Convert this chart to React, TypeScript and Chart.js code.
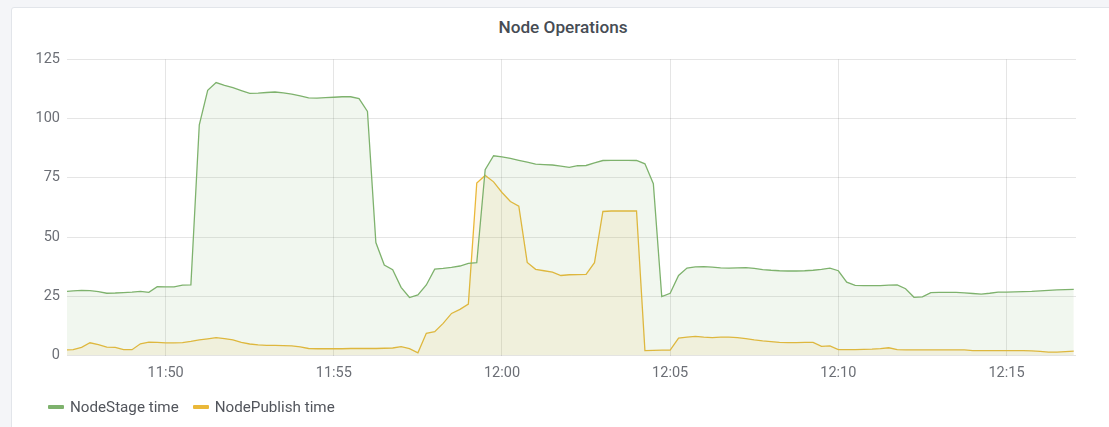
import React, { useEffect, useRef } from "react";
import { Chart, registerables } from "chart.js";

Chart.register(...registerables);

// Samples every 15 s starting at 11:47:00 (minutes since 11:00)
const startMinute = 47;
const stepMinutes = 0.25;

const nodeStageTime = [
  27.0, 27.3, 27.5, 27.4, 27.0, 26.3, 26.4, 26.6, 26.8, 27.1,
  26.7, 29.1, 29.0, 29.0, 29.7, 29.8, 97.4, 111.9, 115.2, 114.0,
  113.0, 111.8, 110.6, 110.7, 111.0, 111.2, 110.8, 110.3, 109.6, 108.7,
  108.6, 108.8, 109.0, 109.2, 109.2, 108.4, 103.0, 47.7, 38.2, 36.2,
  28.8, 24.5, 25.6, 29.8, 36.5, 36.8, 37.2, 37.8, 38.9, 39.2,
  78.4, 84.3, 83.8, 83.2, 82.4, 81.6, 80.8, 80.6, 80.4, 79.9,
  79.4, 80.1, 80.2, 81.3, 82.3, 82.4, 82.4, 82.4, 82.3, 80.9,
  72.5, 24.9, 26.3, 33.8, 36.9, 37.4, 37.5, 37.3, 37.0, 36.9,
  37.0, 37.1, 36.8, 36.3, 36.0, 35.8, 35.7, 35.7, 35.8, 36.0,
  36.4, 36.9, 35.8, 31.0, 29.6, 29.5, 29.5, 29.5, 29.7, 29.8,
  28.2, 24.6, 24.8, 26.6, 26.7, 26.7, 26.7, 26.5, 26.2, 25.9,
  26.3, 26.8, 26.8, 26.9, 27.0, 27.1, 27.3, 27.5, 27.7, 27.8,
  27.9,
];

const nodePublishTime = [
  2.4, 2.5, 3.5, 5.4, 4.6, 3.6, 3.5, 2.5, 2.5, 5.0,
  5.7, 5.6, 5.4, 5.4, 5.5, 6.0, 6.6, 7.1, 7.6, 7.2,
  6.6, 5.6, 4.9, 4.5, 4.3, 4.3, 4.2, 4.1, 3.7, 3.0,
  2.9, 2.9, 2.9, 2.9, 3.0, 3.0, 3.0, 3.0, 3.1, 3.2,
  3.8, 2.9, 1.2, 9.4, 10.1, 13.6, 17.8, 19.5, 21.7, 72.8,
  76.0, 73.3, 68.8, 65.0, 63.0, 39.3, 36.4, 35.8, 35.2, 33.8,
  34.1, 34.2, 34.3, 39.2, 60.8, 61.0, 61.0, 61.0, 61.0, 2.1,
  2.2, 2.3, 2.3, 7.4, 7.8, 8.1, 7.8, 7.6, 7.8, 7.8,
  7.6, 7.2, 6.6, 6.2, 5.9, 5.6, 5.5, 5.5, 5.6, 5.6,
  3.9, 4.1, 2.5, 2.5, 2.5, 2.6, 2.7, 2.9, 3.3, 2.5,
  2.4, 2.4, 2.4, 2.4, 2.4, 2.4, 2.4, 2.4, 2.1, 2.1,
  2.1, 2.1, 2.1, 2.1, 2.1, 2.0, 1.8, 1.5, 1.5, 1.7,
  1.9,
];

const xMin = 47 + 4 / 60;
const xMax = 77 + 4 / 60;
const xTickValues = [50, 55, 60, 65, 70, 75];
const xTickLabels = ["11:50", "11:55", "12:00", "12:05", "12:10", "12:15"];
const yTickStep = 25;
const yMax = 125;

const seriesNames = ["NodeStage time", "NodePublish time"];
const seriesColors = ["#7EB26D", "#EAB839"];
const fillColors = ["rgba(126,178,109,0.11)", "rgba(234,184,57,0.11)"];

const toPoints = (vals: number[]) =>
  vals.map((v, i) => ({ x: startMinute + i * stepMinutes, y: v }));

export default function App() {
  const canvasRef = useRef<HTMLCanvasElement | null>(null);

  useEffect(() => {
    if (!canvasRef.current) return;
    const font = "Roboto, 'Noto Sans', sans-serif";
    const chart = new Chart(canvasRef.current, {
      type: "line",
      data: {
        datasets: [nodeStageTime, nodePublishTime].map((vals, k) => ({
          label: seriesNames[k],
          data: toPoints(vals),
          borderColor: seriesColors[k],
          backgroundColor: fillColors[k],
          borderWidth: 1.3,
          pointRadius: 0,
          tension: 0,
          fill: "origin",
          order: k === 0 ? 0 : 1,
        })),
      },
      options: {
        animation: false,
        responsive: false,
        devicePixelRatio: 1,
        layout: { padding: { top: 59.3, left: 0, right: 33, bottom: 41.4 } },
        plugins: {
          legend: { display: false },
          title: { display: false },
          tooltip: { enabled: false },
        },
        scales: {
          x: {
            type: "linear",
            min: xMin,
            max: xMax,
            afterBuildTicks: (scale: any) => {
              scale.ticks = xTickValues.map((v) => ({ value: v }));
            },
            afterFit: (scale: any) => {
              scale.height = 30;
            },
            grid: { color: "rgba(0,0,0,0.1)", drawTicks: false, lineWidth: 1 },
            border: { display: false },
            ticks: {
              autoSkip: false,
              maxRotation: 0,
              padding: 9,
              color: "#6c6f76",
              font: { family: font, size: 14.5 },
              callback: (value: any) => {
                const idx = xTickValues.indexOf(Number(value));
                return idx >= 0 ? xTickLabels[idx] : "";
              },
            },
          },
          y: {
            min: 0,
            max: yMax,
            afterFit: (scale: any) => {
              scale.width = 67;
            },
            grid: { color: "rgba(0,0,0,0.1)", drawTicks: false, lineWidth: 1 },
            border: { display: false },
            ticks: {
              stepSize: yTickStep,
              padding: 7,
              color: "#6c6f76",
              font: { family: font, size: 14.5 },
            },
          },
        },
      },
    } as any);
    return () => chart.destroy();
  }, []);

  return (
    <div
      style={{
        position: "fixed",
        left: 0,
        top: 0,
        width: 1109,
        height: 427,
        overflow: "hidden",
        background: "#f4f5f8",
        fontFamily: "Roboto, 'Noto Sans', sans-serif",
      }}
    >
      <div
        style={{
          position: "absolute",
          left: 11,
          top: 7,
          width: 1104,
          height: 440,
          background: "#ffffff",
          border: "1px solid #e2e5ea",
          borderRadius: 3,
          boxSizing: "border-box",
        }}
      />
      <div
        style={{
          position: "absolute",
          left: 11,
          top: 17,
          width: 1104,
          textAlign: "center",
          fontSize: 17.2,
          fontWeight: 500,
          lineHeight: "20px",
          color: "#464c54",
        }}
      >
        Node Operations
      </div>
      <canvas
        ref={canvasRef}
        width={1109}
        height={427}
        style={{ position: "absolute", left: 0, top: 0, width: 1109, height: 427 }}
      />
      <div
        style={{
          position: "absolute",
          left: 48,
          top: 398,
          height: 18,
          display: "flex",
          alignItems: "center",
          fontSize: 15.2,
          color: "#52555c",
        }}
      >
        {seriesNames.map((name, k) => (
          <div key={name} style={{ display: "flex", alignItems: "center", marginRight: k === 0 ? 14 : 0 }}>
            <span
              style={{
                display: "inline-block",
                width: 16,
                height: 4,
                borderRadius: 1,
                background: seriesColors[k],
                marginRight: 6,
              }}
            />
            <span>{name}</span>
          </div>
        ))}
      </div>
    </div>
  );
}
